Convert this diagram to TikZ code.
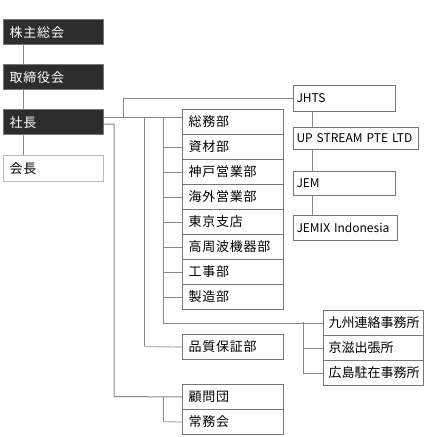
\documentclass[tikz,border=0pt]{standalone}
\usepackage{fontspec}
\setmainfont[LetterSpace=6]{Noto Sans CJK JP}
\newfontfamily\plainfont{Noto Sans CJK JP}
\definecolor{lineg}{HTML}{888888}
\definecolor{lightg}{HTML}{BBBBBB}
\definecolor{boxg}{HTML}{777777}
\definecolor{darkfill}{HTML}{2D2D2D}
\begin{document}
\begin{tikzpicture}[x=1pt,y=-1pt,
  box/.style={draw=boxg, line width=1pt, fill=white, anchor=north west, minimum height=25,
    inner xsep=6, inner ysep=0, align=left, font=\fontsize{13}{15}\selectfont},
  darkbox/.style={box, fill=darkfill, draw=boxg, line width=1.4pt, text=white},
  officebox/.style={box, font=\plainfont\fontsize{13}{15}\selectfont, text width=90, inner xsep=5},
  latin/.style={font=\plainfont\fontsize{12}{14}\selectfont, inner xsep=3},
  conn/.style={draw=lineg, line width=1pt},
  lconn/.style={draw=lightg, line width=1.2pt}]
\useasboundingbox (0,0) rectangle (444,436);
% left column
\node[darkbox, text width=88] (kabu) at (3,19) {株主総会};
\node[darkbox, text width=88] (tori) at (3,64) {取締役会};
\node[darkbox, text width=88] (shacho) at (3,109) {社長};
\node[box, draw=lightg, text width=88, minimum height=26] (kaicho) at (3,155) {会長};
% departments
\node[box, text width=89] (soumu) at (182,109) {総務部};
\node[box, text width=89] (shizai) at (182,134) {資材部};
\node[box, text width=89] (kobe) at (182,159) {神戸営業部};
\node[box, text width=89] (kaigai) at (182,184) {海外営業部};
\node[box, text width=89] (tokyo) at (182,209) {東京支店};
\node[box, text width=89] (koshu) at (182,234) {高周波機器部};
\node[box, text width=89] (koji) at (182,259) {工事部};
\node[box, text width=89] (seizo) at (182,284) {製造部};
\node[box, text width=89] (hinshitsu) at (182,334) {品質保証部};
\node[box, text width=89] (komon) at (182,384) {顧問団};
\node[box, text width=89] (joumu) at (182,409) {常務会};
% offices
\node[officebox] (kyushu) at (323,310) {\mbox{九州連絡事務所}};
\node[officebox] (keiji) at (323,335) {京滋出張所};
\node[officebox] (hiroshima) at (323,360) {\mbox{広島駐在事務所}};
% group companies
\node[box, latin, text width=96, minimum height=26] (jhts) at (293,85) {\mbox{JHTS}};
\node[box, latin, text width=119, minimum height=22] (upstream) at (293,127) {\mbox{UP STREAM PTE LTD}};
\node[box, latin, text width=96, minimum height=24] (jem) at (293,171) {\mbox{JEM}};
\node[box, latin, text width=98, minimum height=25] (jemix) at (293,215) {\mbox{JEMIX Indonesia}};
% connectors
\draw[conn] ([xshift=20]kabu.south west) -- ([xshift=20]tori.north west);
\draw[conn] ([xshift=20]tori.south west) -- ([xshift=20]shacho.north west);
\draw[conn] ([xshift=20]shacho.south west) -- ([xshift=20]kaicho.north west);
\draw[conn] ([yshift=-8]shacho.north east) -- ([yshift=-8]soumu.north west);
\coordinate (ja) at (123,117);
\draw[conn] (ja) |- (jhts.west);
\coordinate (qa) at (144,117);
\draw[conn] (qa) -- (144,346.5);
\draw[lconn] (144,346.5) -- (hinshitsu.west);
\coordinate (da) at (163,117);
\draw[conn] (da) |- (kyushu.west);
\foreach \n in {shizai,kobe,kaigai,tokyo,koshu,koji,seizo}
  \draw[conn] (da |- \n.west) -- (\n.west);
\coordinate (oa) at (303,322);
\draw[conn] (oa) |- (hiroshima.west);
\draw[conn] (oa |- keiji.west) -- (keiji.west);
\draw[conn] ([yshift=-15]shacho.north east) -| (114,396.5) -- (komon.west);
\coordinate (ka) at (163,396.5);
\draw[conn] (ka) -- (163,421.5);
\draw[lconn] (163,421.5) -- (joumu.west);
\draw[conn] ([xshift=19]jhts.south west) -- ([xshift=19]upstream.north west);
\draw[conn] ([xshift=19]upstream.south west) -- ([xshift=19]jem.north west);
\draw[conn] ([xshift=19]jem.south west) -- ([xshift=19]jemix.north west);
\end{tikzpicture}
\end{document}
